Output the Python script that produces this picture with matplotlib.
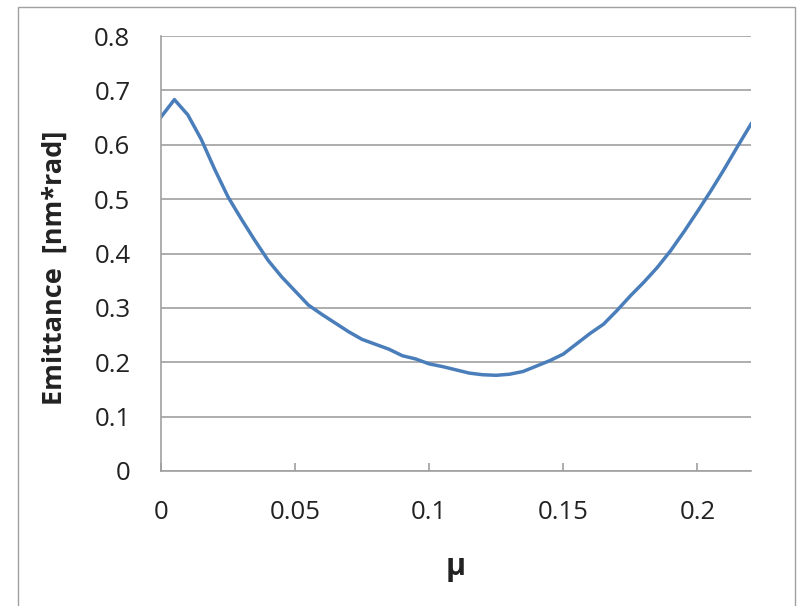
import matplotlib
matplotlib.use("Agg")
import matplotlib.pyplot as plt
from matplotlib.patches import Rectangle

mu = [0.000, 0.005, 0.010, 0.015, 0.020, 0.025, 0.030, 0.035, 0.040, 0.045,
      0.050, 0.055, 0.060, 0.065, 0.070, 0.075, 0.080, 0.085, 0.090, 0.095,
      0.100, 0.105, 0.110, 0.115, 0.120, 0.125, 0.130, 0.135, 0.140, 0.145,
      0.150, 0.155, 0.160, 0.165, 0.170, 0.175, 0.180, 0.185, 0.190, 0.195,
      0.200, 0.205, 0.210, 0.215, 0.220]
emittance = [0.651, 0.683, 0.655, 0.610, 0.555, 0.504, 0.463, 0.424, 0.387, 0.357,
             0.331, 0.305, 0.288, 0.272, 0.256, 0.242, 0.233, 0.224, 0.212, 0.206,
             0.197, 0.192, 0.186, 0.180, 0.177, 0.176, 0.178, 0.183, 0.193, 0.203,
             0.215, 0.234, 0.253, 0.270, 0.295, 0.322, 0.347, 0.374, 0.405, 0.440,
             0.477, 0.515, 0.555, 0.597, 0.638]

x_ticks = [0, 0.05, 0.1, 0.15, 0.2]
x_tick_labels = ["0", "0.05", "0.1", "0.15", "0.2"]
y_ticks = [0, 0.1, 0.2, 0.3, 0.4, 0.5, 0.6, 0.7, 0.8]
y_tick_labels = ["0", "0.1", "0.2", "0.3", "0.4", "0.5", "0.6", "0.7", "0.8"]

plt.rcParams['font.family'] = ['Open Sans', 'DejaVu Sans']

W, H = 798, 606
fig = plt.figure(figsize=(W / 100, H / 100), dpi=100)
fig.patches.append(Rectangle((18 / W, -0.05), (795 - 18) / W, 1.05 - 7 / H,
                             transform=fig.transFigure, fill=False,
                             edgecolor='#a0a0a0', linewidth=1.0))

ax = fig.add_axes([161 / W, (H - 471) / H, (751 - 161) / W, (471 - 36) / H])
grid_c = '#a0a0a0'
ax.plot(mu, emittance, color='#4a7ebb', linewidth=2.5, solid_joinstyle='round')
ax.set_xlim(0, 0.22)
ax.set_ylim(0, 0.8)
ax.set_xticks(x_ticks)
ax.set_xticklabels(x_tick_labels)
ax.set_yticks(y_ticks)
ax.set_yticklabels(y_tick_labels)
ax.yaxis.grid(True, color=grid_c, linewidth=1.2)
ax.set_axisbelow(True)
for s in ['top', 'right']:
    ax.spines[s].set_visible(False)
for s in ['left', 'bottom']:
    ax.spines[s].set_color(grid_c)
    ax.spines[s].set_linewidth(1.2)
ax.tick_params(axis='x', direction='in', length=6, width=1.2, color=grid_c,
               labelsize=18.5, pad=21, labelcolor='#222222')
ax.tick_params(axis='y', length=0, labelsize=18.5, pad=22, labelcolor='#222222')

fig.text(456 / W, 1 - 567 / H, 'μ', fontsize=22, fontweight='bold',
         ha='center', va='center', color='#222222')
fig.text(55 / W, 1 - 268 / H, 'Emittance  [nm*rad]', fontsize=19.5,
         fontweight='bold', rotation=90, ha='center', va='center', color='#222222')

fig.savefig('out.png', dpi=100)
